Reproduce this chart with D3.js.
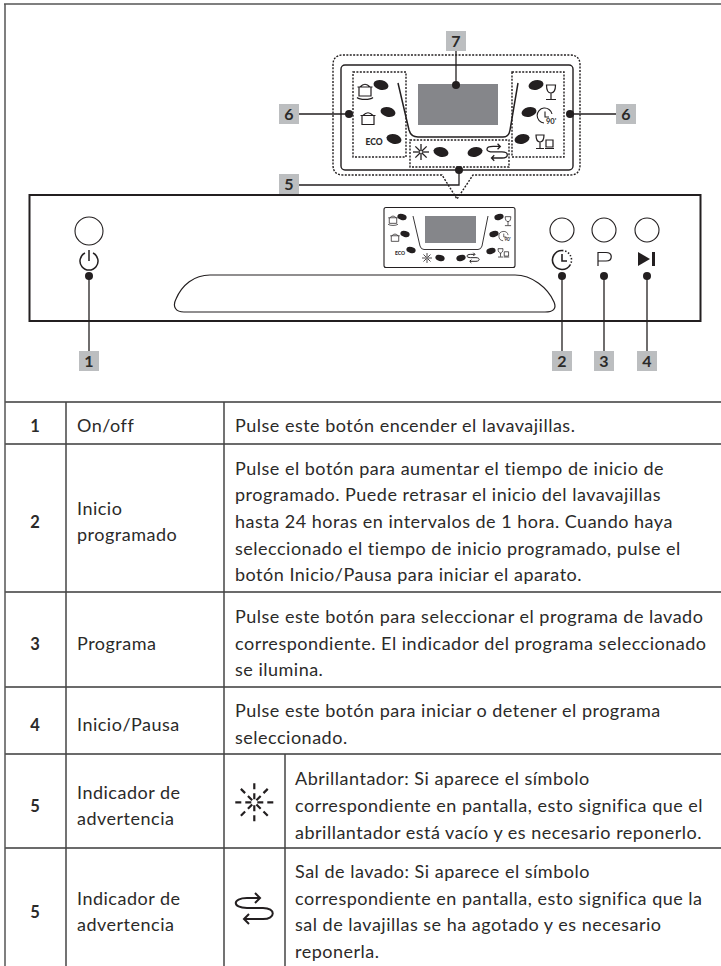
<!DOCTYPE html>
<html>
<head>
<meta charset="utf-8">
<script src="https://cdn.jsdelivr.net/npm/d3@7"></script>
<style>
  html, body { margin: 0; padding: 0; background: #fff; }
  svg { display: block; }
  text { font-family: Lato, "Noto Sans", sans-serif; fill: #2b2a29; }
</style>
</head>
<body>
<div id="chart"></div>
<script>
// table content
const rowNumbers = ["1", "2", "3", "4", "5", "5"];
const rowNames = [
  ["On/off"],
  ["Inicio", "programado"],
  ["Programa"],
  ["Inicio/Pausa"],
  ["Indicador de", "advertencia"],
  ["Indicador de", "advertencia"]
];
const rowTexts = [
  ["Pulse este botón encender el lavavajillas."],
  ["Pulse el botón para aumentar el tiempo de inicio de",
   "programado. Puede retrasar el inicio del lavavajillas",
   "hasta 24 horas en intervalos de 1 hora. Cuando haya",
   "seleccionado el tiempo de inicio programado, pulse el",
   "botón Inicio/Pausa para iniciar el aparato."],
  ["Pulse este botón para seleccionar el programa de lavado",
   "correspondiente. El indicador del programa seleccionado",
   "se ilumina."],
  ["Pulse este botón para iniciar o detener el programa",
   "seleccionado."],
  ["Abrillantador: Si aparece el símbolo",
   "correspondiente en pantalla, esto significa que el",
   "abrillantador está vacío y es necesario reponerlo."],
  ["Sal de lavado: Si aparece el símbolo",
   "correspondiente en pantalla, esto significa que la",
   "sal de lavajillas se ha agotado y es necesario",
   "reponerla."]
];
const buttonIds = ["power", "timer", "program", "start"];
const calloutLabels = ["1", "2", "3", "4", "5", "6", "6", "7"];
const ecoLabel = "ECO";
const clockLabel = "90'";

// layout
var width = 721, height = 966;
const rowEdges = [402, 444, 592, 687, 754, 848, 966];
const rowShift = [9, 10, 10, 10, 11, 11];
const lineStep = 26.7;
const colNumber = 35, colName = 77, colText = 235, colIconText = 295;
const vLines = [
  { x: 5, y1: 4, y2: 966, c: "#555" },
  { x: 66, y1: 402, y2: 966, c: "#444" },
  { x: 224, y1: 402, y2: 966, c: "#444" },
  { x: 285, y1: 754, y2: 966, c: "#444" }
];
const ink = "#231f20";
const screenGrey = "#85868a";
const labelGrey = "#bcbec0";

var svg = d3.select("#chart").append("svg")
    .attr("width", width)
    .attr("height", height);

var rowY = d3.scaleOrdinal().domain(d3.range(rowNumbers.length)).range(d3.pairs(rowEdges).map(p => (p[0] + p[1]) / 2));

// ---- table grid
var grid = svg.append("g").attr("fill", "none");
grid.append("line").attr("x1", 4).attr("x2", width).attr("y1", 4).attr("y2", 4).attr("stroke", "#555").attr("stroke-width", 1.6);
grid.selectAll(".row-line")
    .data(rowEdges.slice(0, -1))
    .enter().append("line")
    .attr("x1", 5).attr("x2", width)
    .attr("y1", d => d).attr("y2", d => d)
    .attr("stroke", "#3a3a3a").attr("stroke-width", 1.3);
grid.selectAll(".col-line")
    .data(vLines)
    .enter().append("line")
    .attr("x1", d => d.x).attr("x2", d => d.x)
    .attr("y1", d => d.y1).attr("y2", d => d.y2)
    .attr("stroke", d => d.c).attr("stroke-width", 1.5);

// ---- table text
function multiLine(lines, i, x, cls) {
  svg.append("g").selectAll("text")
      .data(lines)
      .enter().append("text")
      .attr("class", cls)
      .attr("x", x)
      .attr("y", (d, k) => rowY(i) + rowShift[i] + (k - (lines.length - 1) / 2) * lineStep)
      .attr("font-size", 18)
      .attr("letter-spacing", 0.5)
      .text(d => d);
}
rowNumbers.forEach((n, i) => {
  svg.append("text")
      .attr("x", colNumber)
      .attr("y", rowY(i) + rowShift[i])
      .attr("text-anchor", "middle")
      .attr("font-size", 16.5)
      .attr("font-weight", 700)
      .text(n);
  multiLine(rowNames[i], i, colName, "name");
  multiLine(rowTexts[i], i, i >= 4 ? colIconText : colText, "desc");
});

// ---- helpers for the drawing
function stroke(sel, w) {
  return sel.attr("fill", "none").attr("stroke", ink).attr("stroke-width", w);
}
function dashed(x, y, w, h, r) {
  return stroke(svg.append("rect"), 1.4)
      .attr("x", x).attr("y", y).attr("width", w).attr("height", h).attr("rx", r)
      .attr("stroke-dasharray", "2 1.4");
}
function dot(x, y) {
  svg.append("circle").attr("cx", x).attr("cy", y).attr("r", 4).attr("fill", ink);
}
function label(txt, cx, cy) {
  svg.append("rect").attr("x", cx - 10).attr("y", cy - 10).attr("width", 20).attr("height", 20).attr("fill", labelGrey);
  svg.append("text").attr("x", cx).attr("y", cy + 6).attr("text-anchor", "middle")
      .attr("font-size", 16).attr("font-weight", 700).attr("fill", ink).text(txt);
}
function leader(points) {
  stroke(svg.append("path"), 1.3).attr("d", d3.line()(points));
}
function oval(x, y, s) {
  svg.append("ellipse").attr("rx", 7.6 * s).attr("ry", 4.8 * s)
      .attr("transform", `translate(${x},${y}) rotate(${x > 460 ? -14 : 14})`)
      .attr("fill", ink);
}

// symbols all drawn around 0,0 at size 1
function potIcon(g, lid) {
  stroke(g.append("path"), 1.2).attr("d", "M-6,-2 V7 H6 V-2 M-7.5,-2 H7.5 M-5,-2 Q0,-7.5 5,-2");
  if (lid) stroke(g.append("path"), 1.2).attr("d", "M-8,8.5 C-5,11 5,11 8,8.5");
}
function glassIcon(g) {
  stroke(g.append("path"), 1.2).attr("d", "M-4.5,-7 H4.5 C4.5,-2 3,1 0,1 C-3,1 -4.5,-2 -4.5,-7 Z M0,1 V7 M-5,7.5 H5");
}
function clockIcon(g) {
  stroke(g.append("path"), 1.1).attr("d", "M5,-3 A7.5,7.5 0 1 0 -3,6 M-2,-5.5 V0 H2");
  g.append("text").attr("x", -1).attr("y", 7).attr("font-size", 7.5).attr("font-weight", 700).attr("fill", ink).text(clockLabel);
}
function cupGlassIcon(g) {
  stroke(g.append("path"), 1.2).attr("d", "M-8,-7 H0 C0,-2 -2,0 -4,0 C-6,0 -8,-2 -8,-7 Z M-4,0 V6 M-8,6.5 H0 M2,-2 H9 V5 H2 Z M1,6.5 H10");
}
function snowIcon(g, r, dash) {
  d3.range(8).forEach(k => {
    var a = k * Math.PI / 4;
    stroke(g.append("line"), dash ? 2.2 : 1.3)
        .attr("x1", Math.cos(a) * (dash ? 3 : 1)).attr("y1", Math.sin(a) * (dash ? 3 : 1))
        .attr("x2", Math.cos(a) * r).attr("y2", Math.sin(a) * r)
        .attr("stroke-dasharray", dash ? "6 4" : null);
  });
}
function saltIcon(g, w) {
  stroke(g.append("path"), w).attr("d", "M5,-11 H-7 C-22,-11 -22,-1 -7,-1 H9 C22,-1 22,10 9,10 H-9 M1,-16 L6,-11 L1,-6 M-5,5 L-10,10 L-5,15");
}
function place(x, y, s) {
  return svg.append("g").attr("transform", `translate(${x},${y}) scale(${s})`);
}

// ---- enlarged display
stroke(svg.append("path"), 1.4)
    .attr("d", "M442,175 H343 Q333,175 333,165 V65 Q333,55 343,55 H570 Q580,55 580,65 V165 Q580,175 570,175 H473 L457,199 Z")
    .attr("stroke-dasharray", "2 1.4");
stroke(svg.append("rect"), 1.4).attr("x", 341).attr("y", 65).attr("width", 232).attr("height", 105).attr("rx", 4);
dashed(353, 72, 53, 85, 0);
dashed(512, 72, 52, 85, 0);
dashed(410, 140, 99, 27, 0);
svg.append("rect").attr("x", 418).attr("y", 84).attr("width", 80).attr("height", 41).attr("fill", screenGrey);
stroke(svg.append("path"), 1.5).attr("d", "M398,83 L409,130 Q411,137 418,137 H503 Q509,137 510,130 L518,83");
[[381, 85], [388, 112], [394, 139], [441, 152]].forEach(p => oval(p[0], p[1], 1));
[[536, 85], [529, 112], [522, 139], [475, 152]].forEach(p => oval(p[0], p[1], 1));
potIcon(place(365, 89, 1), true);
potIcon(place(368, 117.5, 1), false);
svg.append("text").attr("x", 374).attr("y", 145).attr("text-anchor", "middle")
    .attr("font-size", 8.5).attr("font-weight", 900).attr("fill", ink).text(ecoLabel);
glassIcon(place(551, 92, 1));
clockIcon(place(547, 117, 1));
cupGlassIcon(place(544, 142, 1));
snowIcon(place(421, 152, 1), 8, false);
saltIcon(place(497, 152.5, 0.55), 2.4);

// ---- machine panel
stroke(svg.append("rect"), 2).attr("x", 29.5).attr("y", 195).attr("width", 671).attr("height", 126);
stroke(svg.append("path"), 1.2)
    .attr("d", "M210,275 H515 C532,275 548,288 554,302 C557,309 553,312 545,312 H184 C176,312 172,307 176,299 C182,285 194,275 210,275 Z");

// mini display
stroke(svg.append("rect"), 1.1).attr("x", 384).attr("y", 207.5).attr("width", 131).attr("height", 60).attr("rx", 2);
svg.append("rect").attr("x", 425).attr("y", 216).attr("width", 51).attr("height", 27).attr("fill", screenGrey);
stroke(svg.append("path"), 0.9).attr("d", "M413,216 L420,246 Q421,249.5 424,249.5 H478 Q481,249.5 482,246 L488,216");
[[402, 217], [405, 234], [411, 250], [440, 258]].forEach(p => oval(p[0], p[1], 0.62));
[[499, 217], [494, 234], [491, 251], [461, 258]].forEach(p => oval(p[0], p[1], 0.62));
potIcon(place(393, 219, 0.62), true);
potIcon(place(395, 237, 0.62), false);
svg.append("text").attr("x", 400).attr("y", 255).attr("text-anchor", "middle")
    .attr("font-size", 5).attr("font-weight", 900).attr("fill", ink).text(ecoLabel);
glassIcon(place(508, 221, 0.62));
clockIcon(place(505, 237, 0.62));
cupGlassIcon(place(503, 253, 0.62));
snowIcon(place(427, 258, 0.62), 8, false);
saltIcon(place(473, 258, 0.33), 3);

// buttons, one circle, one symbol, one callout each
const buttonX = d3.scaleOrdinal().domain(buttonIds).range([89, 562, 604, 647]);
svg.append("g").selectAll("circle")
    .data(buttonIds)
    .enter().append("circle")
    .attr("cx", d => buttonX(d))
    .attr("cy", d => d == "power" ? 231 : 230)
    .attr("r", d => d == "power" ? 14 : 12)
    .attr("fill", "none").attr("stroke", ink).attr("stroke-width", 1.1);

// power symbol
stroke(svg.append("path"), 1.5).attr("d", "M85,253 A9,9 0 1 0 93,253 M89,250 V261");
// timer symbol
stroke(svg.append("path"), 1.6).attr("d", "M562,250.5 A9.5,9.5 0 1 0 570.2,264.8 M562,254 V261 H567");
stroke(svg.append("path"), 1.6).attr("d", "M562,250.5 A9.5,9.5 0 0 1 570.2,264.8").attr("stroke-dasharray", "1.4 1.8");
// program symbol
stroke(svg.append("path"), 1.2).attr("d", "M598,266 V252.5 H606 C613,252.5 613,261 606,261 H598");
// start/pause symbol
svg.append("path").attr("d", "M638,252 L650,259 L638,266 Z").attr("fill", ink);
svg.append("rect").attr("x", 652).attr("y", 252).attr("width", 3).attr("height", 14).attr("fill", ink);

// ---- callouts
buttonIds.forEach((b, i) => {
  var x = buttonX(b);
  leader([[x, 276], [x, 351]]);
  dot(x, 276);
  label(calloutLabels[i], x, 361);
});
leader([[298, 185], [459, 185], [459, 170]]);
dot(459, 170);
label(calloutLabels[4], 289, 184);
leader([[298, 114], [349, 114]]);
dot(349, 114);
label(calloutLabels[5], 289, 114);
leader([[570, 114], [616, 114]]);
dot(570, 114);
label(calloutLabels[6], 626, 114);
leader([[456, 51], [456, 85]]);
dot(456, 85);
label(calloutLabels[7], 456, 41);

// ---- symbols in the table
snowIcon(place(254.3, 802.3, 1), 20, true);
saltIcon(place(254, 909, 1), 2);
</script>
</body>
</html>
